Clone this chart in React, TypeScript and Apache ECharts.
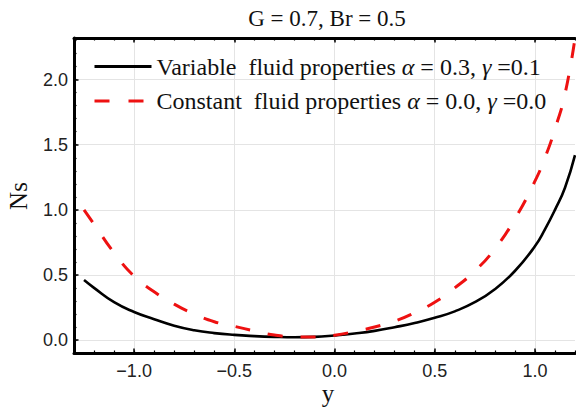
import React, { useEffect, useRef } from "react";
import * as echarts from "echarts";

const titleText = "G = 0.7, Br = 0.5";
const xName = "y";
const yName = "Ns";
const seriesNames = [
  "Variable  fluid properties α = 0.3, γ =0.1",
  "Constant  fluid properties α = 0.0, γ =0.0",
];

const yPositions = [
  -1.25, -1.2, -1.1, -1.0, -0.9, -0.8, -0.7, -0.6, -0.5, -0.4, -0.3, -0.2, -0.1,
  0.0, 0.1, 0.2, 0.3, 0.4, 0.5, 0.6, 0.7, 0.8, 0.9, 1.0, 1.05, 1.1, 1.15, 1.2,
];
const variableNs = [
  0.46, 0.40, 0.29, 0.215, 0.16, 0.11, 0.075, 0.053, 0.039, 0.03, 0.024, 0.021, 0.024,
  0.035, 0.05, 0.07, 0.098, 0.13, 0.17, 0.22, 0.29, 0.39, 0.53, 0.72, 0.85, 1.0, 1.17, 1.42,
];
const constantNs = [
  1.0, 0.89, 0.67, 0.49, 0.37, 0.275, 0.2, 0.14, 0.105, 0.07, 0.038, 0.024, 0.022,
  0.036, 0.065, 0.1, 0.145, 0.21, 0.29, 0.4, 0.53, 0.7, 0.93, 1.22, 1.4, 1.62, 1.89, 2.32,
];

const xTicks = [-1.0, -0.5, 0.0, 0.5, 1.0];
const yTicks = [0.0, 0.5, 1.0, 1.5, 2.0];
const xRange = [-1.3, 1.2];
const yRange = [-0.1, 2.32];
const minorStep = 0.1;

const fmt = (v: number) => (v < 0 ? "\u2212" : "") + Math.abs(v).toFixed(1);

export default function App() {
  const ref = useRef<HTMLDivElement>(null);
  useEffect(() => {
    if (!ref.current) return;
    const chart = echarts.init(ref.current, null, { renderer: "svg" });
    const serif = "Liberation Serif";
    const sans = "Liberation Sans";
    const frame = { show: true, lineStyle: { color: "#000", width: 3 } };
    const majorTick = { show: true, inside: true, length: 4.5, lineStyle: { color: "#000", width: 1.5 } };
    const minorTickStyle = { show: true, inside: true, length: 2.5, lineStyle: { color: "#000", width: 1.2 } };
    const gridLine = { color: "#e4e4e4", width: 1 };

    const mainX = (pos: string, labels: boolean) => ({
      type: "value",
      position: pos,
      min: xRange[0],
      max: xRange[1],
      axisLine: { ...frame, onZero: false },
      axisTick: { ...majorTick, customValues: xTicks },
      axisLabel: labels
        ? { show: true, customValues: xTicks, formatter: fmt, fontFamily: sans, fontSize: 18, color: "#222", margin: 9 }
        : { show: false },
      splitLine: labels ? { show: true, lineStyle: gridLine } : { show: false },
    });
    const minorX = (pos: string) => ({
      type: "value",
      position: pos,
      min: xRange[0],
      max: xRange[1],
      interval: minorStep,
      axisLine: { show: false, onZero: false },
      axisTick: minorTickStyle,
      axisLabel: { show: false },
      splitLine: { show: false },
    });

    const option: any = {
      animation: false,
      grid: { left: 74, top: 38, right: 1, bottom: 61, containLabel: false },
      graphic: [
        {
          type: "text",
          x: 327,
          y: 18,
          style: { text: titleText, font: `23px '${serif}'`, fill: "#111", align: "center", verticalAlign: "middle" },
        },
        {
          type: "text",
          x: 328,
          y: 393,
          style: { text: xName, font: `25px '${serif}'`, fill: "#111", align: "center", verticalAlign: "middle" },
        },
        {
          type: "text",
          x: 18,
          y: 196,
          rotation: Math.PI / 2,
          style: { text: yName, font: `25px '${serif}'`, fill: "#111", align: "center", verticalAlign: "middle" },
        },
      ],
      legend: {
        orient: "vertical",
        left: 88,
        top: 49.5,
        itemWidth: 57,
        itemHeight: 20,
        itemGap: 10.5,
        itemStyle: { opacity: 0, borderWidth: 0 },
        data: [
          { name: seriesNames[0], itemStyle: { opacity: 0, borderWidth: 0 }, lineStyle: { color: "#000", width: 3, type: "solid", opacity: 1 } },
          { name: seriesNames[1], itemStyle: { opacity: 0, borderWidth: 0 }, lineStyle: { color: "#ee1111", width: 3, type: [15, 19], opacity: 1 } },
        ],
        formatter: (name: string) => name.replace("α", "{i|α}").replace("γ", "{i|γ}"),
        textStyle: {
          fontFamily: serif,
          fontSize: 24,
          color: "#111",
          padding: [0, 0, 0, 0],
          rich: {
            i: { fontFamily: serif, fontSize: 24, fontStyle: "italic", color: "#111" },
          },
        },
      },
      xAxis: [mainX("bottom", true), minorX("bottom"), mainX("top", false), minorX("top")],
      yAxis: [
        {
          type: "value",
          position: "left",
          min: yRange[0],
          max: yRange[1],
          axisLine: { ...frame, onZero: false },
          axisTick: { ...majorTick, customValues: yTicks },
          axisLabel: { show: true, customValues: yTicks, formatter: fmt, fontFamily: sans, fontSize: 18, color: "#222", margin: 6 },
          splitLine: { show: true, lineStyle: gridLine },
        },
        {
          type: "value",
          position: "left",
          min: yRange[0],
          max: yRange[1],
          interval: minorStep,
          axisLine: { show: false, onZero: false },
          axisTick: minorTickStyle,
          axisLabel: { show: false },
          splitLine: { show: false },
        },
      ],
      series: [
        {
          name: seriesNames[0],
          type: "line",
          xAxisIndex: 0,
          yAxisIndex: 0,
          data: yPositions.map((x, i) => [x, variableNs[i]]),
          symbol: "none",
          smooth: 0.5,
          lineStyle: { color: "#000", width: 2.6 },
          itemStyle: { color: "#000" },
          z: 3,
        },
        {
          name: seriesNames[1],
          type: "line",
          xAxisIndex: 0,
          yAxisIndex: 0,
          data: yPositions.map((x, i) => [x, constantNs[i]]),
          symbol: "none",
          smooth: 0.5,
          lineStyle: { color: "#ee1111", width: 3, type: [15, 18] },
          itemStyle: { color: "#ee1111" },
          z: 4,
        },
      ],
    };
    chart.setOption(option);
    return () => chart.dispose();
  }, []);
  return (
    <div
      ref={ref}
      style={{ position: "fixed", left: 0, top: 0, width: 576, height: 414, background: "#fff" }}
    />
  );
}
